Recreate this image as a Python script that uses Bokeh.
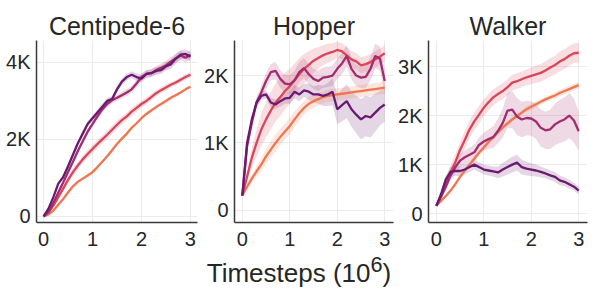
from bokeh.plotting import figure
from bokeh.layouts import row, column
from bokeh.models import FixedTicker, Div, Range1d
from bokeh.embed import file_html
from bokeh.resources import INLINE

# ---------------- data (values in thousands) ----------------
x = [0.0, 0.1, 0.2, 0.3, 0.4, 0.5, 0.6, 0.7, 0.8, 0.9, 1.0, 1.1, 1.2, 1.3, 1.4, 1.5,
     1.6, 1.7, 1.8, 1.9, 2.0, 2.1, 2.2, 2.3, 2.4, 2.5, 2.6, 2.7, 2.8, 2.9, 3.0]

series_names = ["purple", "magenta", "crimson", "orange"]
series_colors = ["#6a1b70", "#a22c6d", "#d9455b", "#ef774f"]

titles = ["Centipede-6", "Hopper", "Walker"]

# Centipede-6
cent_purple = [0, .2, .5, .85, 1.02, 1.3, 1.6, 1.9, 2.15, 2.4, 2.55, 2.7, 2.85, 3.0, 3.05, 3.3,
               3.5, 3.62, 3.68, 3.62, 3.58, 3.7, 3.72, 3.78, 3.8, 3.9, 3.95, 4.1, 4.2, 4.22, 4.15]
cent_magenta = [0, .12, .35, .62, .88, 1.15, 1.42, 1.7, 1.95, 2.2, 2.4, 2.6, 2.78, 2.92, 3.02, 3.08,
                3.15, 3.22, 3.3, 3.45, 3.62, 3.7, 3.72, 3.8, 3.86, 3.92, 4.02, 4.1, 4.18, 4.12, 4.2]
cent_crimson = [0, .1, .28, .5, .72, .95, 1.15, 1.32, 1.48, 1.62, 1.75, 1.88, 2.0, 2.12, 2.25, 2.38,
                2.5, 2.6, 2.72, 2.82, 2.92, 3.0, 3.1, 3.2, 3.28, 3.35, 3.42, 3.48, 3.55, 3.62, 3.68]
cent_orange = [0, .05, .15, .3, .45, .62, .78, .9, .98, 1.06, 1.15, 1.28, 1.42, 1.56, 1.72, 1.88,
               2.02, 2.15, 2.3, 2.42, 2.55, 2.66, 2.75, 2.84, 2.92, 3.0, 3.08, 3.15, 3.22, 3.3, 3.37]
cent_purple_sd = [0, .03, .04, .05, .05, .06, .06, .06, .07, .07, .07, .08, .08, .08, .08, .08,
                  .09, .09, .09, .1, .1, .1, .1, .1, .11, .11, .12, .12, .12, .12, .12]
cent_magenta_sd = [0, .03, .04, .05, .05, .06, .06, .06, .07, .07, .07, .08, .08, .08, .08, .08,
                   .09, .09, .09, .1, .1, .1, .1, .1, .11, .11, .12, .12, .12, .12, .12]
cent_crimson_sd = [0, .03, .05, .07, .08, .09, .1, .1, .1, .11, .11, .11, .11, .11, .11, .11,
                   .1, .1, .1, .1, .09, .09, .09, .08, .08, .08, .07, .07, .07, .07, .07]
cent_orange_sd = [0, .02, .03, .03, .04, .04, .04, .04, .04, .04, .04, .04, .04, .04, .04, .04,
                  .04, .04, .04, .04, .04, .04, .04, .04, .04, .04, .04, .04, .04, .04, .04]

# Hopper
hop_purple = [.22, 1.0, 1.35, 1.6, 1.7, 1.72, 1.6, 1.57, 1.62, 1.66, 1.67, 1.76, 1.72, 1.78, 1.76, 1.72,
              1.72, 1.7, 1.72, 1.76, 1.5, 1.56, 1.62, 1.5, 1.42, 1.35, 1.4, 1.38, 1.45, 1.52, 1.57]
hop_magenta = [.22, .95, 1.3, 1.6, 1.75, 1.92, 2.05, 2.07, 1.95, 1.88, 1.87, 1.93, 2.05, 2.11, 2.02, 1.95,
               1.92, 1.97, 1.98, 2.0, 2.1, 2.18, 2.29, 2.1, 2.0, 1.97, 1.98, 2.1, 2.29, 2.25, 1.92]
hop_crimson = [.22, .5, .78, 1.0, 1.2, 1.35, 1.48, 1.6, 1.68, 1.77, 1.84, 1.93, 2.02, 2.1, 2.16, 2.22,
               2.26, 2.3, 2.33, 2.35, 2.38, 2.36, 2.3, 2.24, 2.21, 2.15, 2.17, 2.2, 2.24, 2.28, 2.33]
hop_orange = [.22, .35, .47, .58, .68, .8, .9, 1.0, 1.09, 1.17, 1.25, 1.35, 1.44, 1.52, 1.58, 1.62,
              1.65, 1.68, 1.7, 1.71, 1.72, 1.73, 1.74, 1.75, 1.76, 1.77, 1.78, 1.79, 1.8, 1.81, 1.82]
hop_purple_sd = [0, .05, .05, .06, .06, .06, .07, .07, .08, .08, .09, .1, .1, .1, .12, .12,
                 .14, .15, .17, .2, .22, .24, .25, .26, .28, .3, .3, .3, .28, .26, .25]
hop_magenta_sd = [0, .05, .06, .08, .1, .12, .12, .13, .13, .13, .14, .14, .15, .15, .15, .15,
                  .15, .15, .15, .15, .15, .16, .16, .16, .16, .16, .17, .17, .18, .18, .18]
hop_crimson_sd = [0, .08, .14, .2, .24, .26, .28, .28, .28, .27, .26, .25, .24, .22, .2, .18,
                  .16, .15, .14, .13, .12, .12, .12, .12, .12, .12, .12, .12, .12, .12, .12]
hop_orange_sd = [0, .04, .06, .08, .1, .11, .12, .12, .12, .12, .12, .12, .11, .1, .1, .1,
                 .09, .09, .09, .09, .09, .09, .09, .09, .09, .09, .09, .09, .09, .09, .09]

# Walker
walk_purple = [.16, .4, .7, .85, .87, .87, .9, .95, 1.0, .95, .9, .88, .86, .84, .9, .95,
               1.0, 1.04, .95, .92, .9, .88, .85, .82, .78, .75, .68, .65, .6, .55, .47]
walk_magenta = [.16, .35, .55, .78, .95, 1.08, 1.15, 1.2, 1.25, 1.4, 1.47, 1.52, 1.56, 1.69, 1.85, 2.1,
                2.12, 1.98, 1.92, 1.95, 1.94, 1.88, 1.75, 1.7, 1.72, 1.82, 1.88, 1.92, 2.0, 1.9, 1.68]
walk_crimson = [.16, .35, .6, .85, 1.05, 1.3, 1.5, 1.72, 1.88, 2.02, 2.16, 2.27, 2.37, 2.44, 2.5, 2.58,
                2.67, 2.7, 2.74, 2.78, 2.81, 2.84, 2.87, 2.92, 2.98, 3.03, 3.1, 3.15, 3.22, 3.27, 3.28]
walk_orange = [.16, .26, .36, .47, .6, .75, .88, 1.0, 1.12, 1.24, 1.35, 1.46, 1.56, 1.66, 1.76, 1.84,
               1.92, 1.99, 2.06, 2.13, 2.18, 2.23, 2.28, 2.33, 2.37, 2.41, 2.46, 2.5, 2.54, 2.58, 2.62]
walk_purple_sd = [0, .05, .08, .1, .1, .1, .1, .1, .1, .1, .1, .1, .1, .12, .14, .15,
                  .16, .16, .15, .14, .13, .12, .11, .1, .1, .1, .1, .09, .09, .08, .08]
walk_magenta_sd = [0, .05, .08, .1, .12, .13, .14, .15, .15, .16, .18, .2, .22, .25, .3, .35,
                   .38, .38, .36, .35, .35, .36, .38, .38, .4, .42, .44, .45, .46, .45, .4]
walk_crimson_sd = [0, .06, .1, .14, .16, .17, .18, .18, .18, .18, .17, .17, .16, .16, .16, .16,
                   .16, .16, .16, .16, .17, .17, .18, .18, .19, .19, .2, .2, .2, .2, .2]
walk_orange_sd = [0, .02, .03, .04, .04, .05, .05, .05, .05, .05, .05, .05, .05, .05, .05, .05,
                  .05, .05, .05, .06, .06, .06, .06, .06, .06, .06, .07, .07, .07, .07, .07]

panel_means = [
    [cent_purple, cent_magenta, cent_crimson, cent_orange],
    [hop_purple, hop_magenta, hop_crimson, hop_orange],
    [walk_purple, walk_magenta, walk_crimson, walk_orange],
]
panel_sds = [
    [cent_purple_sd, cent_magenta_sd, cent_crimson_sd, cent_orange_sd],
    [hop_purple_sd, hop_magenta_sd, hop_crimson_sd, hop_orange_sd],
    [walk_purple_sd, walk_magenta_sd, walk_crimson_sd, walk_orange_sd],
]

y_ticks = [[0, 2000, 4000], [0, 1000, 2000], [0, 1000, 2000, 3000]]
y_tick_labels = [["0", "2K", "4K"], ["0", "1K", "2K"], ["0", "1K", "2K", "3K"]]
y_ranges = [(-160, 4570), (-180, 2520), (-180, 3530)]
x_ticks = [0, 1, 2, 3]
x_label_html = "Timesteps (10<sup>6</sup>)"

# ---------------- layout ----------------
FONT = "Liberation Sans"
TXT = "#262626"
widths = [201, 194, 195]
borders_left = [36, 29, 29]
borders_right = [4, 2, 3]
x_ranges = [(-0.145, 3.145), (-0.165, 3.185), (-0.165, 3.185)]

figs = []
for i in range(3):
    p = figure(width=widths[i], height=252, output_backend="svg", toolbar_location=None,
               x_range=Range1d(*x_ranges[i]), y_range=Range1d(*y_ranges[i]),
               min_border_left=borders_left[i], min_border_right=borders_right[i],
               min_border_top=40, min_border_bottom=30, title=titles[i])
    p.title.text_font = FONT
    p.title.text_font_size = "25px"
    p.title.text_font_style = "normal"
    p.title.text_color = TXT
    p.title.align = "center"
    p.title.standoff = 2
    p.outline_line_color = None
    p.background_fill_color = "white"
    p.border_fill_color = "white"

    for s in range(4):
        m = [v * 1000 for v in panel_means[i][s]]
        sd = [v * 1000 for v in panel_sds[i][s]]
        lo = [a - b for a, b in zip(m, sd)]
        hi = [a + b for a, b in zip(m, sd)]
        p.varea(x=x, y1=lo, y2=hi, fill_color=series_colors[s], fill_alpha=0.18)
    for s in [3, 2, 1, 0]:
        m = [v * 1000 for v in panel_means[i][s]]
        p.line(x, m, line_color=series_colors[s], line_width=2.3)

    p.xaxis.ticker = FixedTicker(ticks=x_ticks)
    p.yaxis.ticker = FixedTicker(ticks=y_ticks[i])
    p.yaxis.major_label_overrides = {t: l for t, l in zip(y_ticks[i], y_tick_labels[i])}
    for ax in (p.xaxis, p.yaxis):
        ax.major_tick_out = 0
        ax.major_tick_in = 0
        ax.minor_tick_out = 0
        ax.minor_tick_in = 0
        ax.axis_line_color = "#3a3a3a"
        ax.axis_line_width = 1.5
        ax.major_label_text_font = FONT
        ax.major_label_text_font_size = "20px"
        ax.major_label_text_color = TXT
    p.yaxis.major_label_standoff = 6
    p.xaxis.major_label_standoff = 9
    p.grid.grid_line_color = "#ebebeb"
    p.grid.grid_line_width = 1
    figs.append(p)

label = Div(text=x_label_html, width=598, height=36, margin=(0, 0, 0, 0),
            styles={"font-family": FONT, "font-size": "26px", "color": TXT,
                    "text-align": "center", "width": "598px", "line-height": "26px"})

layout = column(row(*figs, spacing=0), label, spacing=0)

html = file_html(layout, INLINE)
open("out.html", "w").write(html)
